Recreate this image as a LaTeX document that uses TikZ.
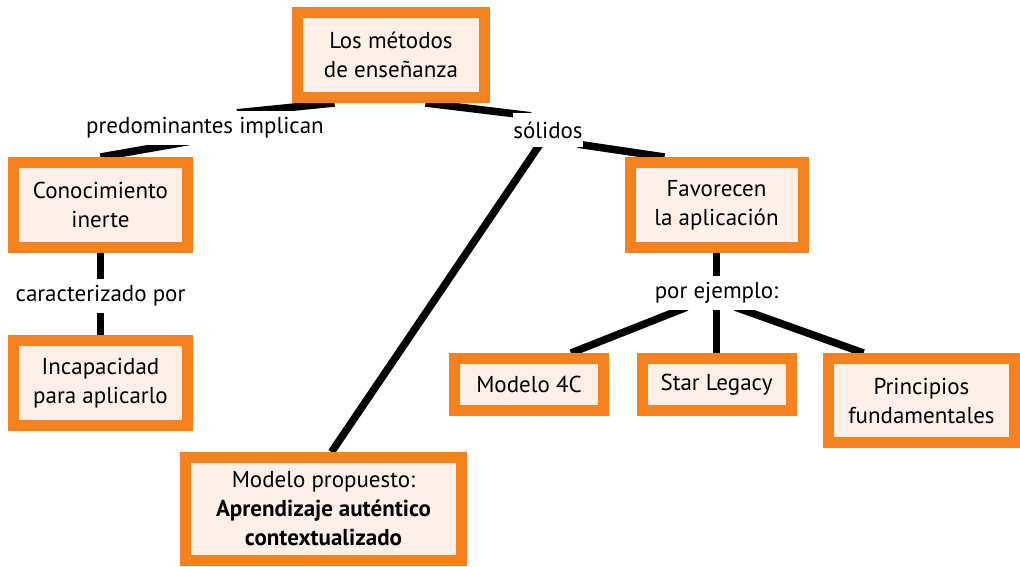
\documentclass[tikz,border=0pt]{standalone}
\usepackage{fontspec}
\setmainfont{PT Sans}
\usetikzlibrary{backgrounds}
\definecolor{boxorange}{HTML}{F5821F}
\definecolor{boxfill}{HTML}{FEF0E7}

\begin{document}
\begin{tikzpicture}[x=1pt, y=-1pt]
    \tikzset{concept/.style={draw=boxorange, line width=11pt, fill=boxfill, align=center,
                 inner sep=0pt, font=\fontsize{23}{29}\selectfont},
             linkword/.style={fill=white, inner sep=0pt, minimum height=34pt,
                 font=\fontsize{23}{29}\selectfont},
             link/.style={line width=7.5pt, black}}
    \useasboundingbox (0, 0) rectangle (1020, 566);
    % \draw (0, 0) grid (1020, 566);
    \node [concept, minimum width=187pt, minimum height=85pt] (metodos) at (391, 55) {Los métodos\\de enseñanza};
    \node [concept, minimum width=174pt, minimum height=85pt] (inerte) at (100.5, 205) {Conocimiento\\inerte};
    \node [concept, minimum width=174pt, minimum height=85pt] (incapaz) at (100.5, 383) {Incapacidad\\para aplicarlo};
    \node [concept, minimum width=173pt, minimum height=85pt] (favorecen) at (716.5, 205) {Favorecen\\la aplicación};
    \node [concept, minimum width=149pt, minimum height=52pt] (modelo4c) at (529, 384.5) {Modelo 4C};
    \node [concept, minimum width=149pt, minimum height=52pt] (star) at (716.5, 384.5) {Star Legacy};
    \node [concept, minimum width=186pt, minimum height=84pt] (principios) at (921.5, 400.5) {Principios\\fundamentales};
    \node [concept, minimum width=276pt, minimum height=103pt] (propuesto) at (323.5, 509)
        {Modelo propuesto:\\\textbf{Aprendizaje auténtico}\\\textbf{contextualizado}};

    \node [linkword] (predominan) at (205, 128) {predominantes implican};
    \node [linkword] (solidos) at (548, 130) {sólidos};
    \node [linkword] (caracter) at (100.5, 296) {caracterizado por};
    \node [linkword] (ejemplo) at (716.5, 293) {por ejemplo:};

    \begin{scope}[on background layer]
        \draw [link] ([xshift=42.5]metodos.south west) -- ([xshift=32, yshift=-2]predominan.north);
        \draw [link] ([xshift=-8.5, yshift=5]predominan.south) -- (inerte.north);
        \draw [link] ([xshift=-64.5]metodos.south east) -- ([xshift=-17, yshift=-3]solidos.north);
        \draw [link] ([xshift=30, yshift=3]solidos.south) -- ([xshift=-52]favorecen.north);
        \draw [link] ([xshift=-8, yshift=3]solidos.south) -- ([xshift=8]propuesto.north);
        \draw [link] (inerte.south) -- (caracter.north);
        \draw [link] (caracter.south) -- (incapaz.north);
        \draw [link] (favorecen.south) -- (ejemplo.north);
        \draw [link] ([xshift=-29.7, yshift=3]ejemplo.south) -- ([xshift=42]modelo4c.north);
        \draw [link] (ejemplo.south) -- (star.north);
        \draw [link] ([xshift=19, yshift=3]ejemplo.south) -- ([xshift=-58]principios.north);
    \end{scope}
\end{tikzpicture}
\end{document}
